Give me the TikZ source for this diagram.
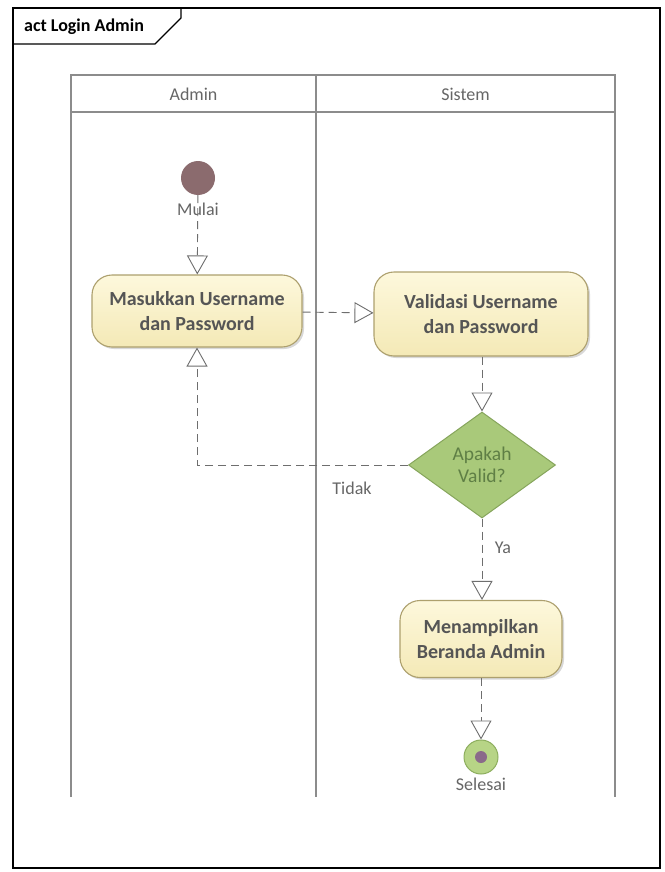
\documentclass[tikz,border=0pt]{standalone}
\usepackage{fontspec}
\setmainfont{Carlito}
\usetikzlibrary{arrows.meta,shapes.geometric,shadows}

\definecolor{actfillA}{HTML}{FDF8DC}
\definecolor{actfillB}{HTML}{F4E9B6}
\definecolor{actline}{HTML}{ADA06E}
\definecolor{acttext}{HTML}{555555}
\definecolor{decfill}{HTML}{A9C97A}
\definecolor{decline}{HTML}{86A55C}
\definecolor{dectext}{HTML}{5F7F45}
\definecolor{startfill}{HTML}{8B6B6E}
\definecolor{endfill}{HTML}{B7D486}
\definecolor{endline}{HTML}{8DAE5E}
\definecolor{enddot}{HTML}{8A6A8A}
\definecolor{laneline}{HTML}{8C8C8C}
\definecolor{flowline}{HTML}{6E6E6E}
\definecolor{labeltext}{HTML}{666666}

\tikzset{
  action/.style={rounded corners=20pt, draw=actline, line width=1.1pt,
    top color=actfillA, bottom color=actfillB,
    drop shadow={shadow xshift=2pt, shadow yshift=-2pt, opacity=0.25, fill=black!60},
    align=center, text=acttext, font=\fontsize{20}{25}\selectfont\bfseries,
    inner sep=0pt},
  decision/.style={diamond, draw=decline, line width=1pt, fill=decfill,
    text=dectext, align=center, font=\fontsize{19.5}{22}\selectfont,
    minimum width=147pt, minimum height=106pt, inner sep=0pt},
  startnode/.style={circle, fill=startfill, minimum size=34pt, inner sep=0pt},
  endouter/.style={circle, fill=endfill, draw=endline, line width=1pt,
    minimum size=34pt, inner sep=0pt},
  enddotst/.style={circle, fill=enddot, minimum size=12pt, inner sep=0pt},
  lbl/.style={text=labeltext, font=\fontsize{18}{20}\selectfont, inner sep=0pt},
  flow/.style={draw=flowline, line width=0.9pt, dash pattern=on 8pt off 5pt,
    -{Triangle[length=19pt, width=21pt, fill=white, line width=0.9pt]}},
  lane/.style={draw=laneline, line width=1.6pt},
}

\begin{document}
\begin{tikzpicture}[x=1pt, y=-1pt]
  \useasboundingbox[fill=white] (0,0) rectangle (664,872);

  % outer frame and title tab
  \draw[line width=1.2pt] (13,8) rectangle (660,868);
  \draw[line width=1.1pt] (13,44) -- (155,44) -- (181,18) -- (181,8);
  \node[anchor=west, font=\fontsize{18}{20}\selectfont\bfseries, inner sep=0pt]
    (title) at (24,27) {act Login Admin};

  % swimlanes
  \draw[lane] (71,797) -- (71,75) -- (615,75) -- (615,797);
  \draw[lane] (316,75) -- (316,797);
  \draw[lane] (71,112) -- (615,112);
  \node[lbl] (laneA) at (193.5,94) {Admin};
  \node[lbl] (laneS) at (465.5,94) {Sistem};

  % nodes
  \node[startnode] (start) at (198,178) {};
  \node[lbl] (mulai) at (198,209) {Mulai};
  \node[action, minimum width=210pt, minimum height=72pt] (act1) at (197,311)
    {Masukkan Username\\dan Password};
  \node[action, minimum width=214pt, minimum height=84pt] (act2) at (481,314)
    {Validasi Username\\dan Password};
  \node[decision] (dec) at (482,465) {Apakah\\Valid?};
  \node[action, minimum width=162pt, minimum height=77pt] (act3) at (481,639)
    {Menampilkan\\Beranda Admin};
  \node[endouter] (final) at (481,757) {};
  \node[enddotst] (finaldot) at (final) {};
  \node[lbl] (selesai) at (481,784) {Selesai};

  % flows
  \draw[flow] (start) -- (act1);
  \draw[flow] (act1) -- (act2);
  \draw[flow] (act2.south -| dec.north) -- (dec.north);
  \draw[flow] (dec.west) -| (act1.south);
  \draw[flow] (dec.south) -- (act3.north -| dec.south);
  \draw[flow] (act3.south) -- (final.north);

  % guard labels
  \node[lbl] (tidak) at (352,488) {Tidak};
  \node[lbl] (ya) at (503,548) {Ya};
\end{tikzpicture}
\end{document}
